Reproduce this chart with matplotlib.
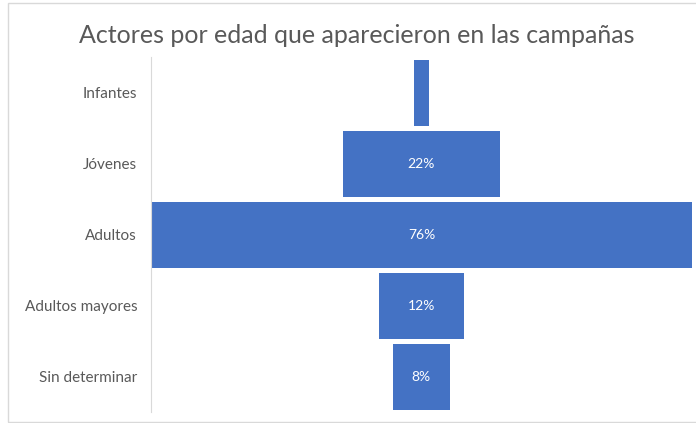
import numpy as np
import matplotlib.pyplot as plt
from matplotlib.patches import Rectangle

categorias = ['Infantes', 'Jóvenes', 'Adultos', 'Adultos mayores', 'Sin determinar']
porcentajes = [2, 22, 76, 12, 8]
etiquetas = ['', '22%', '76%', '12%', '8%']

plt.rcParams['font.family'] = ['Lato', 'DejaVu Sans']

fig = plt.figure(figsize=(6.96, 4.23), dpi=100)
fig.patches.append(Rectangle((0.011, 0.002), 1.2, 0.99, transform=fig.transFigure,
                             fill=False, edgecolor='#d9d9d9', linewidth=1))
ax = fig.add_axes([0.217, 0.026, 0.777, 0.839])

y = np.arange(len(categorias))
vals = np.array(porcentajes)
ax.barh(y, vals, left=-vals / 2, height=0.93, color='#4472C4')
for yi, t in zip(y, etiquetas):
    ax.text(0, yi, t, ha='center', va='center', color='white', fontsize=10)

ax.set_xlim(-vals.max() / 2, vals.max() / 2)
ax.set_ylim(len(categorias) - 0.5, -0.5)
ax.set_yticks(y)
ax.set_yticklabels(categorias, fontsize=11, color='#595959')
ax.tick_params(axis='y', length=0, pad=10)
ax.set_xticks([])
for s in ['top', 'right', 'bottom']:
    ax.spines[s].set_visible(False)
ax.spines['left'].set_color('#d9d9d9')

fig.text(0.512, 0.915, 'Actores por edad que aparecieron en las campañas',
         ha='center', va='center', fontsize=18, color='#595959')

fig.savefig('out.png', dpi=100)
